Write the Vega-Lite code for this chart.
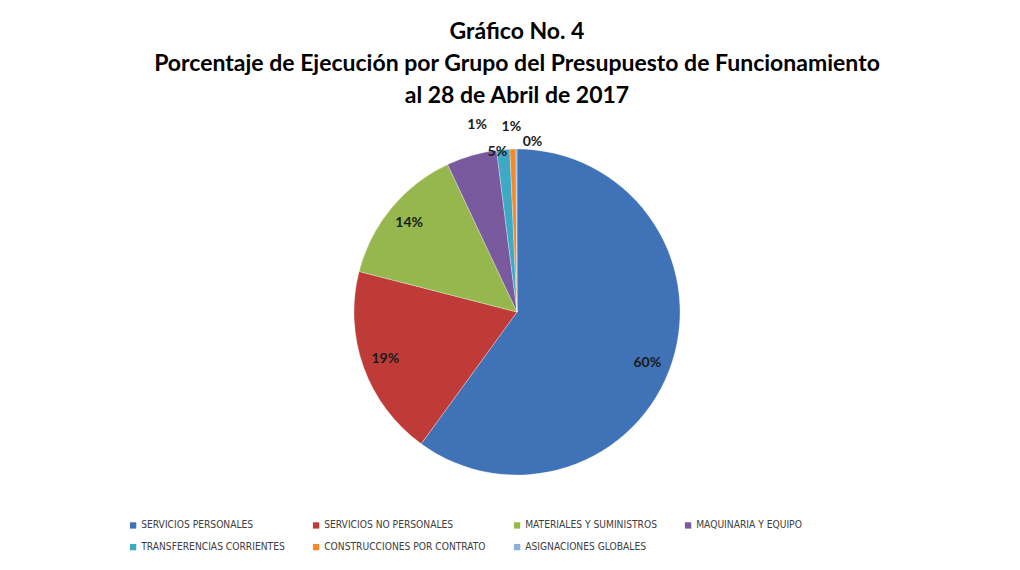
{
  "$schema": "https://vega.github.io/schema/vega-lite/v6.json",
  "autosize": "none",
  "width": 1034,
  "height": 404,
  "padding": {"top": 110, "left": 0, "right": 0, "bottom": 56},
  "background": "white",
  "title": {
    "text": ["Gráfico No. 4", "Porcentaje de Ejecución por Grupo del Presupuesto de Funcionamiento", "al 28 de Abril de 2017"],
    "font": "Lato",
    "fontSize": 23,
    "fontWeight": "bold",
    "lineHeight": 32,
    "color": "#000000",
    "anchor": "middle",
    "offset": 2
  },
  "data": {
    "values": [
      {"grupo": "SERVICIOS PERSONALES", "valor": 0.600, "orden": 1},
      {"grupo": "SERVICIOS NO PERSONALES", "valor": 0.190, "orden": 2},
      {"grupo": "MATERIALES Y SUMINISTROS", "valor": 0.140, "orden": 3},
      {"grupo": "MAQUINARIA Y EQUIPO", "valor": 0.050, "orden": 4},
      {"grupo": "TRANSFERENCIAS CORRIENTES", "valor": 0.013, "orden": 5},
      {"grupo": "CONSTRUCCIONES POR CONTRATO", "valor": 0.006, "orden": 6},
      {"grupo": "ASIGNACIONES GLOBALES", "valor": 0.001, "orden": 7}
    ]
  },
  "encoding": {
    "theta": {"field": "valor", "type": "quantitative", "stack": true},
    "order": {"field": "orden", "type": "quantitative", "sort": "ascending"}
  },
  "layer": [
    {
      "mark": {"type": "arc", "outerRadius": 163, "stroke": "#ffffff", "strokeWidth": 0.6, "strokeOpacity": 0.5},
      "encoding": {
        "color": {
          "field": "grupo",
          "type": "nominal",
          "sort": ["SERVICIOS PERSONALES", "SERVICIOS NO PERSONALES", "MATERIALES Y SUMINISTROS", "MAQUINARIA Y EQUIPO", "TRANSFERENCIAS CORRIENTES", "CONSTRUCCIONES POR CONTRATO", "ASIGNACIONES GLOBALES"],
          "scale": {
            "domain": ["SERVICIOS PERSONALES", "SERVICIOS NO PERSONALES", "MATERIALES Y SUMINISTROS", "MAQUINARIA Y EQUIPO", "TRANSFERENCIAS CORRIENTES", "CONSTRUCCIONES POR CONTRATO", "ASIGNACIONES GLOBALES"],
            "range": ["#3F72B6", "#BE3B38", "#95B74E", "#7A5A9E", "#3DA9C4", "#F08A2C", "#8DB0DC"]
          },
          "legend": {
            "title": null,
            "orient": "none",
            "legendX": 128,
            "legendY": 410,
            "direction": "horizontal",
            "columns": 4,
            "columnPadding": 26,
            "rowPadding": 11,
            "symbolType": "square",
            "symbolSize": 40,
            "symbolStrokeWidth": 0,
            "symbolOffset": 0,
            "labelFont": "Liberation Sans Narrow, DejaVu Sans Condensed, Roboto",
            "labelFontSize": 10.2,
            "labelColor": "#404040",
            "labelOffset": 3,
            "labelLimit": 300
          }
        }
      }
    },
    {
      "mark": {"type": "text", "radius": 137, "dy": 9, "font": "Lato", "fontSize": 14, "fontWeight": "bold", "color": "#1a1a1a"},
      "encoding": {
        "text": {"field": "valor", "type": "quantitative", "format": ".0%"},
        "opacity": {"condition": {"test": "datum.orden == 1", "value": 1}, "value": 0}
      }
    },
    {
      "mark": {"type": "text", "radius": 140, "font": "Lato", "fontSize": 14, "fontWeight": "bold", "color": "#1a1a1a"},
      "encoding": {
        "text": {"field": "valor", "type": "quantitative", "format": ".0%"},
        "opacity": {"condition": {"test": "datum.orden == 2 || datum.orden == 3", "value": 1}, "value": 0}
      }
    },
    {
      "mark": {"type": "text", "radius": 160, "dx": 25, "dy": -6, "font": "Lato", "fontSize": 14, "fontWeight": "bold", "color": "#1a1a1a"},
      "encoding": {
        "text": {"field": "valor", "type": "quantitative", "format": ".0%"},
        "opacity": {"condition": {"test": "datum.orden == 4", "value": 1}, "value": 0}
      }
    },
    {
      "mark": {"type": "text", "radius": 188, "dx": -24, "font": "Lato", "fontSize": 14, "fontWeight": "bold", "color": "#1a1a1a"},
      "encoding": {
        "text": {"field": "valor", "type": "quantitative", "format": ".0%"},
        "opacity": {"condition": {"test": "datum.orden == 5", "value": 1}, "value": 0}
      }
    },
    {
      "mark": {"type": "text", "radius": 185, "dx": -1, "font": "Lato", "fontSize": 14, "fontWeight": "bold", "color": "#1a1a1a"},
      "encoding": {
        "text": {"field": "valor", "type": "quantitative", "format": ".0%"},
        "opacity": {"condition": {"test": "datum.orden == 6", "value": 1}, "value": 0}
      }
    },
    {
      "mark": {"type": "text", "radius": 170, "dx": 16, "font": "Lato", "fontSize": 14, "fontWeight": "bold", "color": "#1a1a1a"},
      "encoding": {
        "text": {"field": "valor", "type": "quantitative", "format": ".0%"},
        "opacity": {"condition": {"test": "datum.orden == 7", "value": 1}, "value": 0}
      }
    }
  ],
  "config": {"view": {"stroke": null}}
}
